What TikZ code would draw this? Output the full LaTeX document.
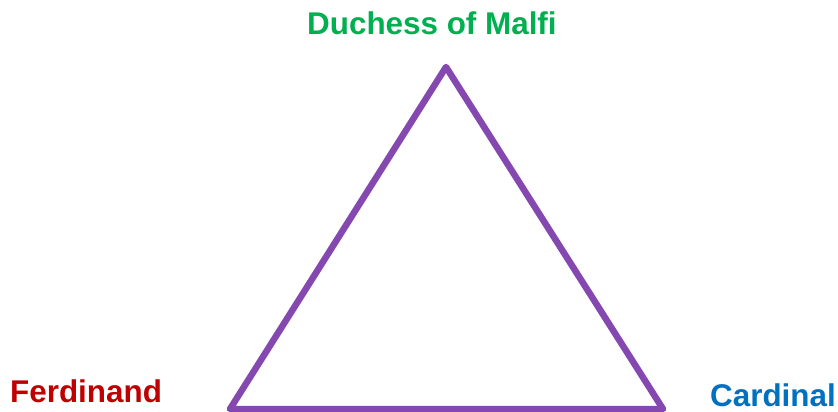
\documentclass[tikz,border=0pt]{standalone}
\usepackage{fontspec}
\setmainfont{Liberation Sans}
\definecolor{tri}{HTML}{8548B0}
\definecolor{dgreen}{HTML}{00B050}
\definecolor{dred}{HTML}{C00000}
\definecolor{dblue}{HTML}{0070C0}
\begin{document}
\begin{tikzpicture}[x=1pt,y=-1pt,
  lbl/.style={font=\fontsize{31.4}{31.4}\selectfont\bfseries, inner sep=0pt, anchor=base west}]
\useasboundingbox (0,0) rectangle (838,412);
\coordinate (A) at (446,67);
\coordinate (B) at (230,409);
\coordinate (C) at (663,409);
\draw[tri, line width=6.5pt, line join=round] (A) -- (B) -- (C) -- cycle;
\node[lbl, text=dgreen] (duchess) at (307,35) {Duchess of Malfi};
\node[lbl, text=dred] (ferd) at (10,402) {Ferdinand};
\node[lbl, text=dblue] (card) at (710,406) {Cardinal};
\end{tikzpicture}
\end{document}
